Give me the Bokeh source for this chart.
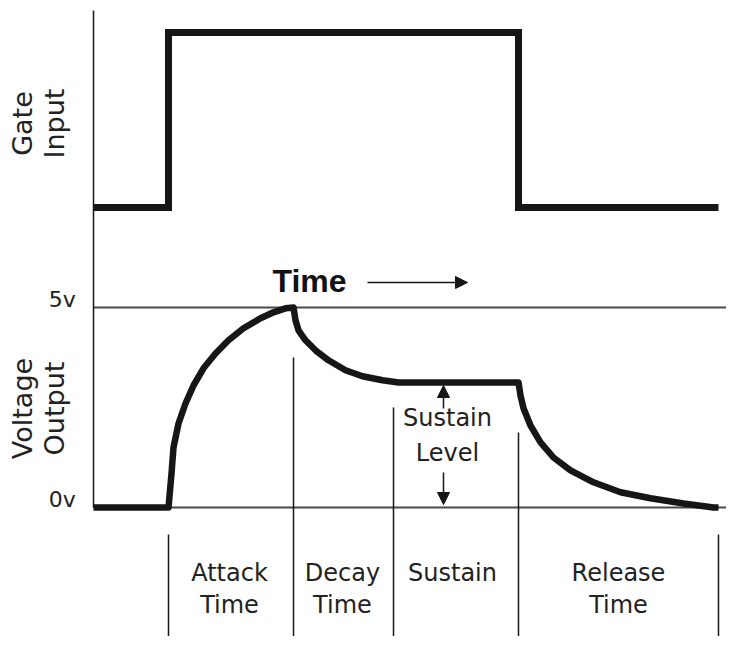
from math import pi
from bokeh.plotting import figure
from bokeh.models import Range1d, Arrow, NormalHead, ColumnDataSource
from bokeh.core.properties import value
from bokeh.embed import file_html
from bokeh.resources import INLINE

# ---------------- data (diagram units: time units on x, volts on y) ----------------
phase_bounds = [3, 8, 12, 17, 25]          # attack start, peak, decay end, release start, release end
phase_labels = ["Attack\nTime", "Decay\nTime", "Sustain", "Release\nTime"]
phase_label_t = [5.44, 9.96, 14.36, 21.0]

gate_t = [0, 3, 3, 17, 17, 25]
gate_level = [7.5, 7.5, 11.875, 11.875, 7.5, 7.5]

env_t = [0, 3.0, 3.12, 3.2, 3.4, 3.68, 4.0, 4.4, 4.88, 5.4, 6.0, 6.68, 7.2, 7.68, 8.0,
         8.08, 8.2, 8.48, 8.88, 9.4, 10.08, 10.76, 11.56, 12.2,
         17.0, 17.08, 17.2, 17.48, 17.88, 18.4, 19.08, 20.0, 21.08, 22.28, 23.6, 24.8, 25.0]
env_v = [0, 0, 0.85, 1.5, 2.1, 2.6, 3.05, 3.48, 3.85, 4.18, 4.48, 4.73, 4.88, 4.98, 5.0,
         4.68, 4.43, 4.18, 3.93, 3.68, 3.43, 3.28, 3.18, 3.125,
         3.125, 2.8, 2.48, 2.05, 1.63, 1.25, 0.93, 0.63, 0.38, 0.23, 0.1, 0.0, 0.0]

level_values = [5, 0]
level_labels = ["5v", "0v"]
sustain_level = 3.125

# ---------------- layout ----------------
sep_top = [-0.675, 3.75, 2.5, 1.875, -0.675]
sep_bottom = -3.6

p = figure(width=726, height=636, x_range=Range1d(-3.72, 25.32), y_range=Range1d(-3.225, 12.675),
           output_backend="svg", toolbar_location=None, min_border=0,
           x_axis_type=None, y_axis_type=None)
p.grid.visible = False
p.outline_line_color = None
p.background_fill_color = "white"

INK = "#161616"

# reference level lines
for lv in level_values:
    p.line(x=[0, 26.5], y=[lv, lv], line_color="#4a4a4a", line_width=2)

# left vertical axis line
p.line(x=[0, 0], y=[12.425, 0], line_color=INK, line_width=1.5)

# phase separators
p.multi_line(xs=[[t, t] for t in phase_bounds],
             ys=[[top, sep_bottom] for top in sep_top],
             line_color=INK, line_width=1.5)

# gate signal
p.line(x=gate_t, y=gate_level, line_color=INK, line_width=7, line_join="miter")

# envelope
p.line(x=env_t, y=env_v, line_color=INK, line_width=6.5, line_join="round")

# level tick labels
p.text(x=[-1.25] * len(level_values), y=[v + 0.2 for v in level_values], text=level_labels,
       text_align="center", text_baseline="middle", text_font=value("DejaVu Sans"),
       text_font_size="22px", text_color="#222222")

# rotated axis titles
p.text(x=[-2.2, -2.2], y=[9.6, 2.475], text=["Gate\nInput", "Voltage\nOutput"], angle=pi / 2,
       text_align="center", text_baseline="middle", text_font=value("DejaVu Sans"),
       text_font_size="27px", text_line_height=1.05, text_color="#222222")

# phase labels
p.text(x=phase_label_t, y=[-1.275] * len(phase_label_t), text=phase_labels,
       text_align="center", text_baseline="top", text_font=value("DejaVu Sans"),
       text_font_size="24px", text_line_height=1.15, text_color="#222222")

# sustain level label
p.text(x=[14.16], y=[1.8], text=["Sustain\nLevel"], text_align="center", text_baseline="middle",
       text_font=value("DejaVu Sans"), text_font_size="24px", text_line_height=1.25,
       text_color="#222222")

# Time label and arrow
p.text(x=[7.16], y=[5.675], text=["Time"], text_align="left", text_baseline="alphabetic",
       text_font=value("Liberation Sans"), text_font_size="32px", text_font_style="bold",
       text_color="#111111")
p.add_layout(Arrow(x_start=10.96, y_start=5.625, x_end=14.96, y_end=5.625, line_width=1.5,
                   line_color=INK,
                   end=NormalHead(size=12, fill_color=INK, line_color=INK)))

# sustain arrows
arr = ColumnDataSource(dict(x0=[14, 14], y0=[2.475, 0.875], x1=[14, 14],
                            y1=[sustain_level - 0.075, 0.075]))
p.add_layout(Arrow(source=arr, x_start="x0", y_start="y0", x_end="x1", y_end="y1",
                   line_width=1.5, line_color=INK,
                   end=NormalHead(size=12, fill_color=INK, line_color=INK)))

open("out.html", "w").write(file_html(p, INLINE))
